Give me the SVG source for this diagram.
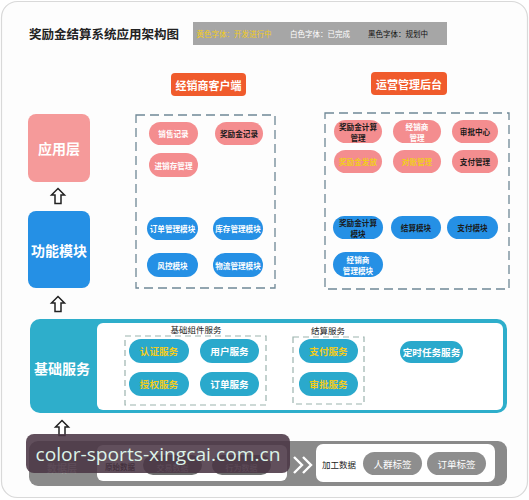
<svg xmlns="http://www.w3.org/2000/svg" width="529" height="500" viewBox="0 0 529 500">
<defs>
<style>
text{font-family:"Noto Sans CJK SC","Noto Sans",sans-serif;text-anchor:middle;dominant-baseline:central}
.pk{fill:#f48d8f}
.bl{fill:#2590e5}
.tl{fill:#2aa9cc}
.pt{font-size:7.6px;font-weight:bold}
.w{fill:#ffffff}
.k{fill:#1a1a1a}
.y{fill:#f2cc1c}
.dash{fill:none;stroke:#6f8896;stroke-width:1.3;stroke-dasharray:9 5}
.dash2{fill:none;stroke:#9cb3ae;stroke-width:1.2;stroke-dasharray:6 4}
.sv{font-size:9.6px;font-weight:bold}
.arr{fill:#ffffff;stroke:#222;stroke-width:1.5;stroke-linejoin:miter}
</style>
<path id="up" class="arr" d="M0,-7.5 L6.5,-1 L3,-1 L3,7.5 L-3,7.5 L-3,-1 L-6.5,-1 Z"/>
</defs>
<rect x="1.5" y="1.5" width="526" height="496" rx="16" fill="#fdfdfd" stroke="#d9d9d9" stroke-width="1.2"/>

<g id="title">
<text x="104" y="33" style="font-size:12.5px;font-weight:bold;fill:#222">奖励金结算系统应用架构图</text>
</g>
<g id="legend">
<rect x="193" y="22" width="254" height="23" fill="#a6a6a6"/>
<text x="234" y="33.5" style="font-size:7.5px;fill:#f2cc1c">黄色字体：开发进行中</text>
<text x="320" y="33.5" style="font-size:7.5px;fill:#fff">白色字体：已完成</text>
<text x="398" y="33.5" style="font-size:7.5px;fill:#111">黑色字体：规划中</text>
</g>

<g id="header-dealer">
<rect x="171" y="73" width="75" height="23" rx="4" fill="#f05b2c"/>
<text x="208.5" y="84.5" style="font-size:11px;font-weight:bold;fill:#fff">经销商客户端</text>
</g>
<g id="header-ops">
<rect x="371" y="72" width="76" height="23" rx="4" fill="#f05b2c"/>
<text x="409" y="83.5" style="font-size:11px;font-weight:bold;fill:#fff">运营管理后台</text>
</g>

<g id="layer-app">
<rect x="28" y="114" width="62" height="68" rx="8" fill="#f59a9a"/>
<text x="59" y="148" style="font-size:14px;font-weight:bold;fill:#fff">应用层</text>
</g>
<g id="layer-func">
<rect x="28" y="211" width="62" height="77" rx="8" fill="#2590e5"/>
<text x="59" y="249.5" style="font-size:14px;font-weight:bold;fill:#fff">功能模块</text>
</g>

<g id="dealer-panel">
<rect class="dash" x="136" y="115" width="139" height="173"/>
</g>
<g id="n-sales"><rect class="pk" x="149" y="122" width="49" height="23" rx="11.5"/><text class="pt w" x="173.5" y="133.5">销售记录</text></g>
<g id="n-bonus-rec"><rect class="pk" x="215" y="122" width="48" height="23" rx="11.5"/><text class="pt k" x="239" y="133.5">奖励金记录</text></g>
<g id="n-inventory"><rect class="pk" x="149" y="153" width="49" height="24" rx="12"/><text class="pt w" x="173.5" y="165">进销存管理</text></g>
<g id="n-order-mod"><rect class="bl" x="147" y="217" width="51" height="23" rx="11.5"/><text class="pt w" x="172.5" y="228.5">订单管理模块</text></g>
<g id="n-stock-mod"><rect class="bl" x="213" y="217" width="50" height="23" rx="11.5"/><text class="pt w" x="238" y="228.5">库存管理模块</text></g>
<g id="n-risk-mod"><rect class="bl" x="147" y="253" width="51" height="24" rx="12"/><text class="pt w" x="172.5" y="265">风控模块</text></g>
<g id="n-logistics-mod"><rect class="bl" x="213" y="253" width="50" height="24" rx="12"/><text class="pt w" x="238" y="265">物流管理模块</text></g>

<g id="ops-panel">
<rect class="dash" x="325" y="113" width="184" height="176"/>
</g>
<g id="n-bonus-calc"><rect class="pk" x="334" y="120" width="48" height="23" rx="11.5"/><text class="pt k" x="358" y="126.5">奖励金计算</text><text class="pt k" x="358" y="137">管理</text></g>
<g id="n-dealer-mgmt"><rect class="pk" x="393" y="120" width="48" height="23" rx="11.5"/><text class="pt w" x="417" y="126.5">经销商</text><text class="pt w" x="417" y="137">管理</text></g>
<g id="n-approval"><rect class="pk" x="452" y="120" width="46" height="23" rx="11.5"/><text class="pt k" x="475" y="131.5">审批中心</text></g>
<g id="n-bonus-acct"><rect class="pk" x="334" y="150" width="48" height="23" rx="11.5"/><text class="pt y" x="358" y="161.5">奖励金发放</text></g>
<g id="n-reconcile"><rect class="pk" x="393" y="150" width="48" height="23" rx="11.5"/><text class="pt y" x="417" y="161.5">对账管理</text></g>
<g id="n-pay-mgmt"><rect class="pk" x="452" y="150" width="46" height="23" rx="11.5"/><text class="pt k" x="475" y="161.5">支付管理</text></g>
<g id="n-bonus-calc-mod"><rect class="bl" x="333" y="216" width="50" height="23" rx="11.5"/><text class="pt k" x="358" y="222.5">奖励金计算</text><text class="pt k" x="358" y="233">模块</text></g>
<g id="n-settle-mod"><rect class="bl" x="391" y="216" width="50" height="23" rx="11.5"/><text class="pt k" x="416" y="227.5">结算模块</text></g>
<g id="n-pay-mod"><rect class="bl" x="447" y="216" width="51" height="23" rx="11.5"/><text class="pt k" x="472.5" y="227.5">支付模块</text></g>
<g id="n-dealer-mod"><rect class="bl" x="333" y="252" width="50" height="25" rx="12.5"/><text class="pt w" x="358" y="259">经销商</text><text class="pt w" x="358" y="270">管理模块</text></g>

<g id="layer-base">
<rect x="30" y="319" width="477" height="94" rx="10" fill="#2eaecb"/>
<rect x="97" y="323" width="406" height="87" rx="6" fill="#ffffff"/>
<text x="62" y="368" style="font-size:14px;font-weight:bold;fill:#fff">基础服务</text>
<text x="196" y="328.5" style="font-size:8.5px;fill:#222">基础组件服务</text>
<rect class="dash2" x="125" y="336" width="141" height="69"/>
<text x="328" y="330" style="font-size:8.5px;fill:#222">结算服务</text>
<rect class="dash2" x="293" y="337" width="71" height="67"/>
</g>
<g id="n-auth"><rect class="tl" x="129" y="339" width="60" height="24" rx="12"/><text class="sv y" x="159" y="351">认证服务</text></g>
<g id="n-user"><rect class="tl" x="200" y="339" width="59" height="24" rx="12"/><text class="sv w" x="229.5" y="351">用户服务</text></g>
<g id="n-authz"><rect class="tl" x="129" y="372" width="60" height="24" rx="12"/><text class="sv y" x="159" y="384">授权服务</text></g>
<g id="n-order-svc"><rect class="tl" x="200" y="372" width="59" height="24" rx="12"/><text class="sv w" x="229.5" y="384">订单服务</text></g>
<g id="n-pay-svc"><rect class="tl" x="299" y="339" width="59" height="24" rx="12"/><text class="sv y" x="328.5" y="351">支付服务</text></g>
<g id="n-approve-svc"><rect class="tl" x="299" y="372" width="59" height="24" rx="12"/><text class="sv y" x="328.5" y="384">审批服务</text></g>
<g id="n-timer-svc"><rect class="tl" x="400" y="341" width="63" height="22" rx="11"/><text class="sv w" x="431.5" y="352">定时任务服务</text></g>

<g id="layer-data">
<rect x="29" y="441" width="478" height="45" rx="9" fill="#8a8a8a"/>
<text x="62" y="467" style="font-size:10px;font-weight:bold;fill:#d8d8d8">数据层</text>
<rect x="97" y="445" width="190" height="36" rx="6" fill="#ffffff"/>
<text x="120" y="466" style="font-size:7.5px;font-weight:bold;fill:#222">原始数据</text>
<rect x="143" y="455" width="59" height="20" rx="10" fill="#6e6e6e"/>
<text x="172.5" y="467" style="font-size:8px;fill:#ddd">交易数据</text>
<rect x="212" y="455" width="59" height="20" rx="10" fill="#6e6e6e"/>
<text x="241.5" y="467" style="font-size:8px;fill:#ddd">行为数据</text>
<path d="M294,457 L302,465 L294,473 M303,457 L311,465 L303,473" fill="none" stroke="#fff" stroke-width="2.4"/>
<rect x="316" y="444" width="179" height="38" rx="7" fill="#ffffff"/>
<text x="339" y="464" style="font-size:8.5px;fill:#222">加工数据</text>
<rect x="363" y="452" width="59" height="23" rx="11.5" fill="#8e8e8e"/>
<text x="392.5" y="463.5" style="font-size:9.5px;fill:#fff">人群标签</text>
<rect x="427" y="452" width="59" height="23" rx="11.5" fill="#8e8e8e"/>
<text x="456.5" y="463.5" style="font-size:9.5px;fill:#fff">订单标签</text>
</g>

<g id="connectors">
<use href="#up" x="58" y="196"/>
<use href="#up" x="58" y="304"/>
<use href="#up" x="62" y="428"/>
</g>

<g id="watermark">
<rect x="26" y="434" width="264" height="39" rx="8" fill="#4a3544" fill-opacity="0.87"/>
<text x="158" y="454" textLength="245" lengthAdjust="spacingAndGlyphs" style="font-family:'Open Sans','DejaVu Sans',sans-serif;font-size:19px;fill:#dcf3e8">color-sports-xingcai.com.cn</text>
</g>
</svg>
